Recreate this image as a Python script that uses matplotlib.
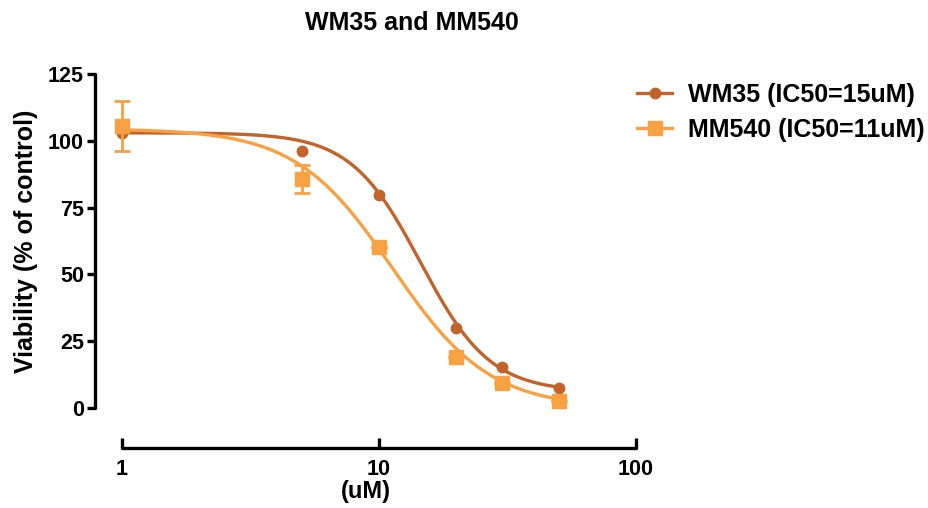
import numpy as np
import matplotlib
matplotlib.use("Agg")
import matplotlib.pyplot as plt

# 濃度 (uM)
conc = [1, 5, 10, 20, 30, 50]

# 生存率 (% of control)
wm35 = [103.0, 96.3, 79.7, 30.0, 15.3, 7.4]
mm540 = [105.5, 85.7, 60.4, 19.2, 9.4, 2.7]
mm540_err = [9.5, 5.2, 0, 0, 0, 0]

# 4パラメータロジスティック当てはめ (top, bottom, IC50, hill)
wm35_fit = [103.0, 6.0, 14.5, 3.2]
mm540_fit = [104.5, 0.0, 11.3, 2.3]

labels = ["WM35 (IC50=15uM)", "MM540 (IC50=11uM)"]
c_wm = "#C2632B"
c_mm = "#F7A142"


def hill(x, top, bottom, ic50, h):
    return bottom + (top - bottom) / (1 + (x / ic50) ** h)


def main():
    plt.rcParams["font.family"] = ["Liberation Sans", "DejaVu Sans"]
    plt.rcParams["font.weight"] = "bold"

    fig = plt.figure(figsize=(9.29, 5.08), dpi=100)
    W, H = 929, 508
    ax = fig.add_axes([95 / W, (H - 408) / H, (636 - 95) / W, (408 - 74) / H])

    xs = np.logspace(0, np.log10(50), 300)
    ax.plot(xs, hill(xs, *wm35_fit), color=c_wm, lw=2.4, zorder=2, clip_on=False)
    ax.plot(conc, wm35, "o", color=c_wm, ms=7.5, zorder=3, clip_on=False)
    ax.plot(xs, hill(xs, *mm540_fit), color=c_mm, lw=2.4, zorder=4, clip_on=False)
    ax.errorbar(conc, mm540, yerr=mm540_err, fmt="s", color=c_mm, ms=10,
                elinewidth=2, capsize=6, capthick=2, zorder=5, clip_on=False)

    ax.set_xscale("log")
    ax.set_xlim(10 ** (-27 / 257), 100)
    ax.set_ylim(0, 125)
    ax.set_xticks([1, 10, 100])
    ax.set_xticklabels(["1", "10", "100"])
    ax.xaxis.set_minor_locator(matplotlib.ticker.NullLocator())
    ax.set_yticks([0, 25, 50, 75, 100, 125])

    for s in ["top", "right"]:
        ax.spines[s].set_visible(False)
    ax.spines["left"].set_linewidth(2.4)
    ax.spines["bottom"].set_linewidth(2.4)
    ax.spines["left"].set_bounds(0, 125)
    ax.spines["bottom"].set_bounds(1, 100)
    ax.spines["bottom"].set_position(("outward", 29))
    ax.spines["left"].set_capstyle("round")
    ax.spines["bottom"].set_capstyle("round")

    ax.tick_params(axis="y", direction="out", length=6, width=2.4,
                   labelsize=15.5, pad=2)
    ax.tick_params(axis="x", direction="in", length=7, width=2.4,
                   labelsize=15.5, pad=8)

    ax.set_ylabel("Viability (% of control)", fontsize=18, fontweight="bold", labelpad=7)
    ax.set_xlabel("(uM)", fontsize=17, fontweight="bold", labelpad=0)

    fig.text(412 / W, 1 - 23 / H, "WM35 and MM540", fontsize=18,
             fontweight="bold", ha="center", va="center")

    h1 = plt.Line2D([], [], color=c_wm, lw=2.4, marker="o", ms=7.5)
    h2 = plt.Line2D([], [], color=c_mm, lw=2.4, marker="s", ms=10)
    fig.legend([h1, h2], labels, loc="upper left",
               bbox_to_anchor=(637 / W, 1 - 83 / H), frameon=False,
               fontsize=18, handlelength=1.4, handletextpad=0.65,
               labelspacing=0.45, borderpad=0, borderaxespad=0)

    fig.savefig("out.png", dpi=100)


if __name__ == "__main__":
    main()
